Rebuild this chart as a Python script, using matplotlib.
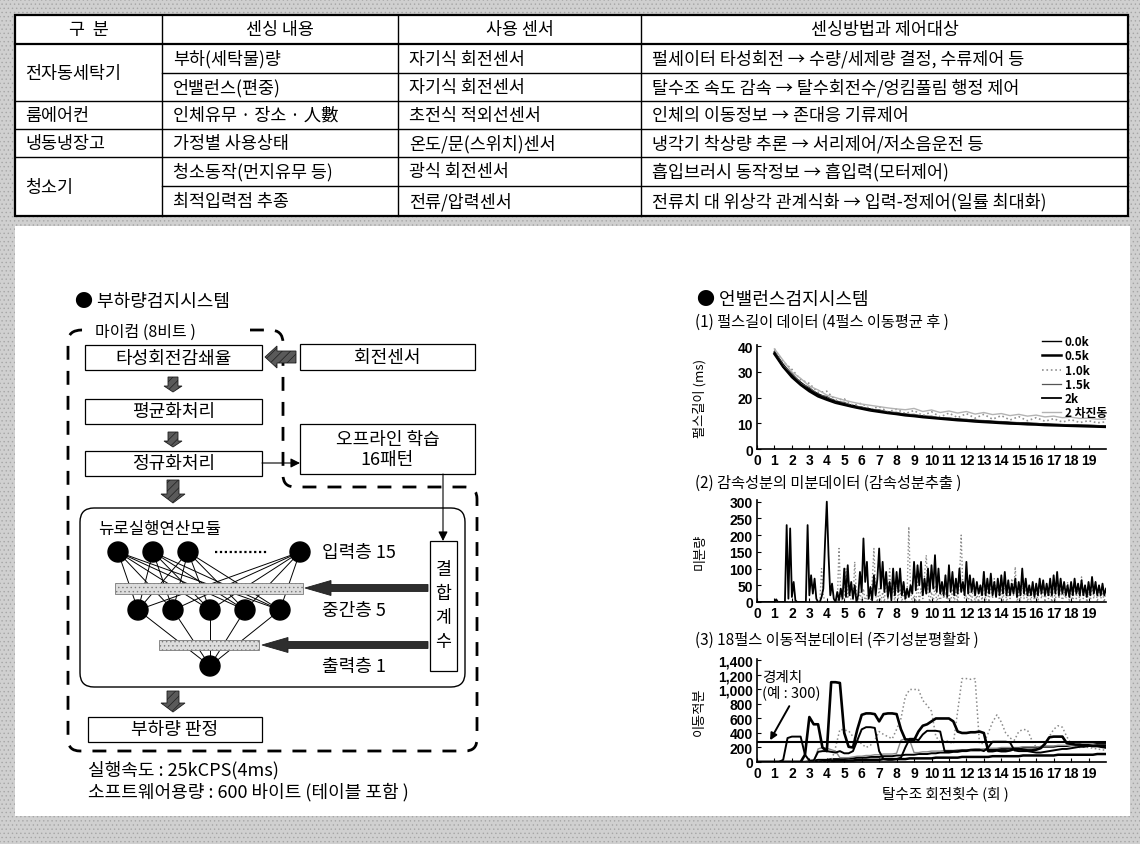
import numpy as np
import matplotlib
matplotlib.use('Agg')
import matplotlib.pyplot as plt
from matplotlib.patches import Rectangle, FancyBboxPatch, FancyArrow, Circle, PathPatch
from matplotlib.path import Path

plt.rcParams['font.family'] = ['Noto Sans CJK KR', 'DejaVu Sans']
plt.rcParams['hatch.linewidth'] = 0.5

# ---------------- table ----------------
headers = ['구  분', '센싱 내용', '사용 센서', '센싱방법과 제어대상']
products = ['전자동세탁기', '룸에어컨', '냉동냉장고', '청소기']
product_rows = [2, 1, 1, 2]
sensing = ['부하(세탁물)량', '언밸런스(편중)', '인체유무 · 장소 · 人數', '가정별 사용상태',
           '청소동작(먼지유무 등)', '최적입력점 추종']
sensors = ['자기식 회전센서', '자기식 회전센서', '초전식 적외선센서', '온도/문(스위치)센서',
           '광식 회전센서', '전류/압력센서']
methods = ['펄세이터 타성회전 → 수량/세제량 결정, 수류제어 등',
           '탈수조 속도 감속 → 탈수회전수/엉킴풀림 행정 제어',
           '인체의 이동정보 → 존대응 기류제어',
           '냉각기 착상량 추론 → 서리제어/저소음운전 등',
           '흡입브러시 동작정보 → 흡입력(모터제어)',
           '전류치 대 위상각 관계식화 → 입력-정제어(일률 최대화)']

# ---------------- diagram labels ----------------
flow_boxes = ['타성회전감쇄율', '평균화처리', '정규화처리', '부하량 판정']
layer_labels = ['입력층 15', '중간층 5', '출력층 1']
notes = ['실행속도 : 25kCPS(4ms)', '소프트웨어용량 : 600 바이트 (테이블 포함 )']

# ---------------- (1) pulse length data, every half turn from 1 to 20 ----------------
x1 = np.arange(1.0, 20.01, 0.5)
pulse_labels = ['0.0k', '0.5k', '1.0k', '1.5k', '2k', '2 차진동']
pulse_00 = [38, 33, 29, 26, 23.5, 21.5, 20, 18.8, 17.8, 17,
            16.2, 15.6, 15, 14.5, 14, 13.6, 13.2, 12.9, 12.5, 12.2,
            12, 11.7, 11.4, 11.2, 11, 10.8, 10.6, 10.4, 10.2, 10.1,
            9.9, 9.8, 9.6, 9.5, 9.4, 9.3, 9.2, 9.1, 9.0]
pulse_05 = [37, 32, 28, 25, 22.5, 20.5, 19.2, 18, 17.2, 16.4,
            15.7, 15, 14.5, 14, 13.6, 13.1, 12.8, 12.4, 12.1, 11.8,
            11.5, 11.2, 11, 10.7, 10.5, 10.3, 10.1, 9.9, 9.8, 9.6,
            9.5, 9.3, 9.2, 9.1, 9, 8.9, 8.8, 8.7, 8.6]
pulse_10 = [39, 34, 31, 27, 25.5, 22, 22.5, 19, 19.5, 17,
            17.8, 15.5, 16.5, 14.5, 15.5, 13.8, 15, 13, 14.5, 12.5,
            14, 12.2, 13.8, 12, 13.5, 11.6, 13, 11.3, 12.6, 11,
            12.2, 10.8, 11.8, 10.5, 11.4, 10.3, 11, 10.2, 10.6]
pulse_15 = [38, 32.5, 29.5, 25.5, 24, 21, 20.5, 18.3, 18.2, 16.5,
            16.4, 15.2, 15.3, 14.2, 14.3, 13.4, 13.5, 12.7, 12.8, 12,
            12.1, 11.5, 11.6, 11, 11.1, 10.6, 10.7, 10.3, 10.3, 10,
            10, 9.7, 9.7, 9.5, 9.5, 9.3, 9.3, 9.1, 9.1]
pulse_20 = [37.5, 32, 28.5, 25.2, 23, 21, 19.5, 18.4, 17.4, 16.6,
            15.9, 15.3, 14.7, 14.2, 13.8, 13.4, 13, 12.6, 12.3, 12,
            11.7, 11.5, 11.2, 11, 10.8, 10.6, 10.4, 10.2, 10, 9.9,
            9.7, 9.6, 9.4, 9.3, 9.2, 9.1, 9, 8.9, 8.8]
pulse_2nd = [39, 34.5, 30, 27.5, 24.5, 23, 21, 20, 19, 18.2,
             17.5, 17, 16.5, 16, 15.6, 15.3, 15.8, 14.6, 15.2, 14.2,
             14.8, 14, 14.6, 13.6, 14.2, 13.4, 13.8, 13, 13.5, 12.8,
             13.2, 12.5, 12.8, 12.2, 12.4, 11.9, 12, 11.6, 11.6]

# ---------------- (2) derivative data, every 0.1 turn ----------------
x2 = np.round(np.arange(0, 20.001, 0.1), 1)
deriv_black = [0, 0, 0, 0, 0, 0, 0, 0, 0, 0,
               0, 8, 0, 0, 0, 0, 0, 230, 10, 220,
               15, 60, 5, 0, 0, 0, 0, 0, 0, 230,
               20, 80, 25, 70, 10, 0, 0, 15, 40, 180,
               300, 140, 20, 55, 10, 0, 30, 5, 40, 10,
               100, 15, 110, 20, 60, 10, 50, 0, 20, 90,
               30, 190, 60, 120, 10, 45, 5, 80, 20, 70,
               160, 40, 120, 30, 90, 15, 60, 5, 100, 20,
               90, 30, 100, 20, 60, 10, 40, 15, 50, 25,
               120, 35, 110, 50, 120, 20, 70, 25, 100, 30,
               110, 40, 140, 30, 100, 25, 60, 20, 80, 15,
               110, 30, 90, 20, 70, 25, 100, 30, 60, 20,
               120, 25, 80, 30, 70, 20, 60, 25, 50, 20,
               90, 20, 70, 25, 85, 20, 60, 15, 70, 20,
               80, 25, 90, 20, 65, 20, 55, 25, 70, 15,
               60, 20, 100, 25, 70, 20, 50, 20, 60, 15,
               55, 20, 70, 25, 65, 20, 55, 20, 70, 20,
               80, 25, 90, 20, 70, 25, 60, 20, 50, 15,
               60, 20, 70, 25, 55, 20, 65, 20, 50, 15,
               60, 20, 75, 25, 60, 20, 50, 20, 55, 20,
               40]
deriv_gray = [0, 0, 0, 0, 0, 0, 0, 0, 0, 0,
              0, 0, 0, 0, 0, 0, 0, 0, 0, 0,
              0, 0, 0, 0, 0, 0, 0, 0, 0, 0,
              0, 0, 0, 0, 0, 0, 0, 100, 20, 0,
              0, 0, 0, 0, 0, 0, 0, 160, 20, 0,
              0, 100, 10, 40, 0, 0, 120, 20, 0, 30,
              0, 40, 0, 20, 0, 0, 60, 160, 20, 0,
              40, 0, 30, 0, 80, 0, 100, 20, 40, 0,
              60, 10, 40, 0, 30, 0, 20, 225, 30, 0,
              20, 0, 60, 0, 40, 10, 80, 140, 30, 0,
              30, 0, 50, 0, 20, 0, 40, 10, 30, 0,
              20, 0, 40, 0, 30, 0, 60, 200, 40, 10,
              20, 0, 30, 0, 50, 0, 20, 0, 40, 0,
              90, 0, 40, 0, 60, 10, 70, 20, 50, 0,
              40, 0, 60, 0, 30, 10, 70, 20, 105, 0,
              30, 0, 60, 10, 40, 0, 30, 0, 50, 0,
              40, 0, 60, 10, 50, 0, 40, 10, 30, 0,
              50, 0, 70, 10, 40, 0, 30, 10, 60, 0,
              40, 0, 60, 10, 50, 0, 75, 10, 40, 0,
              30, 0, 50, 10, 60, 0, 40, 10, 30, 0,
              40]

# ---------------- (3) moving integral data, every 0.25 turn ----------------
x3 = np.arange(0, 20.001, 0.25)
threshold = 280
integ_a = [0, 0, 0, 0, 0, 0, 0, 0, 0, 0, 0, 100,
           620, 520, 520, 200, 150, 1100, 1100, 1090, 400, 210, 200, 450,
           650, 670, 670, 660, 560, 660, 670, 670, 660, 450, 310, 310,
           300, 420, 500, 520, 560, 600, 600, 600, 600, 560, 420, 400,
           400, 410, 410, 420, 400, 150, 150, 160, 150, 150, 160, 180,
           180, 170, 160, 160, 170, 190, 250, 340, 350, 350, 350, 260,
           250, 240, 240, 230, 230, 220, 220, 210, 200]
integ_b = [0, 0, 0, 0, 0, 0, 30, 330, 350, 350, 350, 100,
           20, 20, 140, 150, 150, 140, 130, 150, 120, 120, 150, 300,
           450, 480, 480, 470, 150, 40, 30, 30, 40, 60, 200, 320,
           320, 300, 380, 430, 430, 430, 420, 150, 150, 150, 150, 160,
           160, 170, 170, 170, 150, 200, 280, 280, 280, 280, 270, 160,
           150, 150, 150, 140, 130, 130, 140, 150, 160, 170, 180, 180,
           190, 200, 210, 210, 220, 220, 230, 230, 230]
integ_c = [0, 0, 0, 0, 0, 0, 0, 0, 0, 0, 0, 0,
           0, 0, 0, 0, 0, 0, 200, 450, 440, 430, 350, 300,
           250, 200, 230, 300, 420, 380, 350, 320, 450, 600, 900, 1000,
           1000, 1000, 850, 780, 700, 350, 280, 300, 280, 250, 700, 1150,
           1150, 1140, 1150, 250, 260, 400, 550, 650, 550, 400, 330, 300,
           420, 450, 440, 300, 200, 180, 230, 350, 450, 500, 480, 350,
           250, 220, 200, 210, 200, 190, 180, 170, 160]
integ_e = [0, 0, 0, 0, 0, 0, 0, 0, 0, 0, 0, 0,
           10, 20, 30, 30, 30, 40, 40, 40, 40, 50, 50, 60,
           60, 60, 70, 70, 70, 80, 80, 80, 90, 90, 100, 100,
           100, 110, 110, 110, 120, 120, 130, 130, 130, 140, 140, 150,
           150, 160, 160, 160, 170, 170, 170, 180, 180, 180, 190, 190,
           190, 200, 200, 200, 200, 210, 210, 210, 210, 220, 220, 220,
           230, 230, 230, 240, 240, 240, 250, 250, 250]
integ_f = [0, 0, 0, 0, 0, 0, 0, 0, 0, 0, 0, 0,
           0, 0, 0, 10, 10, 10, 20, 20, 20, 20, 20, 30,
           30, 30, 30, 30, 30, 40, 40, 40, 40, 40, 40, 50,
           50, 50, 50, 50, 50, 60, 60, 60, 60, 60, 60, 70,
           70, 70, 70, 70, 70, 70, 80, 80, 80, 80, 80, 80,
           80, 90, 90, 90, 90, 90, 90, 90, 90, 100, 100, 100,
           100, 100, 100, 100, 100, 100, 110, 110, 110]
integ_g = [0, 0, 0, 0, 0, 0, 0, 0, 0, 0, 0, 0,
           0, 0, 180, 200, 190, 170, 150, 60, 60, 60, 70, 80,
           80, 90, 90, 100, 100, 110, 110, 110, 120, 300, 320, 300,
           130, 130, 140, 140, 150, 150, 150, 160, 160, 160, 170, 170,
           170, 170, 180, 180, 180, 190, 190, 190, 200, 200, 200, 200,
           200, 210, 210, 210, 210, 210, 220, 220, 220, 230, 230, 230,
           230, 230, 240, 240, 240, 240, 240, 240, 240]

turn_ticks = list(range(20))

# ================= figure =================
fig = plt.figure(figsize=(11.4, 8.45), dpi=100)
ax0 = fig.add_axes([0, 0, 1, 1])
ax0.set_xlim(0, 1140)
ax0.set_ylim(845, 0)
ax0.axis('off')

# grey scanned frame and white page
ax0.add_patch(Rectangle((0, 0), 1140, 845, fc='#d0d0d0', ec='#a6a6a6', hatch='....', lw=0))
ax0.add_patch(Rectangle((15, 227), 1115, 590, fc='white', lw=0))

# ---- table ----
col_x = [15, 162, 398, 641, 1128]
row_y = [16, 45, 74, 102, 130, 158, 187, 217]
tfs = 12.5
ax0.add_patch(Rectangle((col_x[0], row_y[0]), col_x[-1] - col_x[0], row_y[-1] - row_y[0],
                        fc='white', ec='black', lw=1.6))
for x in col_x[1:-1]:
    ax0.plot([x, x], [row_y[0], row_y[-1]], color='black', lw=1.0)
group_ends = np.cumsum(product_rows)[:-1]
for i in range(1, len(row_y) - 1):
    full = i == 1 or (i - 1) in group_ends
    x_start = col_x[0] if full else col_x[1]
    ax0.plot([x_start, col_x[-1]], [row_y[i], row_y[i]], color='black', lw=1.6 if i == 1 else 1.0)

for c, h in enumerate(headers):
    ax0.text((col_x[c] + col_x[c + 1]) / 2, (row_y[0] + row_y[1]) / 2, h,
             ha='center', va='center', fontsize=tfs)
r = 0
for name, span in zip(products, product_rows):
    yc = (row_y[1 + r] + row_y[1 + r + span]) / 2
    ax0.text(col_x[0] + 10, yc, name, va='center', fontsize=tfs)
    r += span
for r, cells in enumerate(zip(sensing, sensors, methods)):
    yc = (row_y[1 + r] + row_y[2 + r]) / 2
    for c, s in enumerate(cells):
        ax0.text(col_x[c + 1] + 11, yc, s, va='center', fontsize=tfs)

# ---- left diagram ----
ax0.text(75, 302, '● 부하량검지시스템', va='center', fontsize=13)

M, L, C = Path.MOVETO, Path.LINETO, Path.CURVE3
verts = [(250, 331), (270, 331), (283, 331), (283, 344), (283, 476), (283, 488), (295, 488),
         (465, 488), (477, 488), (477, 500), (477, 740), (477, 752), (465, 752),
         (80, 752), (68, 752), (68, 740), (68, 343), (68, 331), (82, 331), (90, 331)]
codes = [M, L, C, C, L, C, C, L, C, C, L, C, C, L, C, C, L, C, C, L]
ax0.add_patch(PathPatch(Path(verts, codes), fill=False, ec='black', lw=2.0, ls=(0, (5, 4))))
ax0.text(145, 332, '마이컴 (8비트 )', ha='center', va='center', fontsize=11.5)


def box(x, y, w, h, text, fs=13):
    ax0.add_patch(Rectangle((x, y), w, h, fc='white', ec='black', lw=0.9, zorder=3))
    ax0.text(x + w / 2, y + h / 2, text, ha='center', va='center', fontsize=fs, zorder=4,
             linespacing=1.1)


def block_arrow(x, y, dx, dy, width, head_width, head_length, fc='#5a5a5a', hatch='////'):
    ax0.add_patch(FancyArrow(x, y, dx, dy, width=width, head_width=head_width,
                             head_length=head_length, length_includes_head=True,
                             fc=fc, ec='#1e1e1e', lw=0.6, hatch=hatch, zorder=5))


box(85, 346, 177, 25, flow_boxes[0])
box(85, 400, 177, 25, flow_boxes[1])
box(85, 452, 177, 25, flow_boxes[2])
box(88, 718, 174, 25, flow_boxes[3])
box(300, 345, 175, 26, '회전센서')
box(300, 425, 175, 50, '오프라인 학습\n16패턴')

block_arrow(296, 358, -31, 0, 12, 22, 12)
block_arrow(173, 378, 0, 15, 10, 18, 6)
block_arrow(173, 433, 0, 15, 10, 18, 6)
block_arrow(173, 481, 0, 23, 12, 24, 9)
block_arrow(173, 692, 0, 21, 12, 24, 9)

thin = dict(arrowstyle='-|>', color='black', lw=0.8, mutation_scale=14, shrinkA=0, shrinkB=0)
ax0.annotate('', xy=(300, 464), xytext=(262, 464), arrowprops=thin)
ax0.annotate('', xy=(443, 542), xytext=(443, 475), arrowprops=thin)

ax0.add_patch(FancyBboxPatch((80, 509), 385, 179, boxstyle='round,pad=0,rounding_size=14',
                             fc='none', ec='black', lw=1.0, zorder=2))
ax0.text(98, 530, '뉴로실행연산모듈', va='center', fontsize=12)

input_x = [118, 153, 188, 300]
hidden_x = [138, 173, 210, 245, 280]
output_x = [210]
layer_y = [553, 611, 667]
node_r = 10
for xi in input_x:
    for xh in hidden_x:
        ax0.plot([xi, xh], [layer_y[0], layer_y[1]], color='black', lw=0.7, zorder=3)
for xh in hidden_x:
    for xo in output_x:
        ax0.plot([xh, xo], [layer_y[1], layer_y[2]], color='black', lw=0.7, zorder=3)
ax0.add_patch(Rectangle((115, 584), 188, 11, fc='#dcdcdc', ec='#7a7a7a', hatch='....', lw=0.6, zorder=4))
ax0.add_patch(Rectangle((159, 641), 100, 10, fc='#dcdcdc', ec='#7a7a7a', hatch='....', lw=0.6, zorder=4))
for xs, y in zip([input_x, hidden_x, output_x], layer_y):
    for x in xs:
        ax0.add_patch(Circle((x, y), node_r, fc='black', ec='black', zorder=6))
ax0.plot([215, 268], [layer_y[0], layer_y[0]], color='black', lw=1.6, ls=(0, (1, 1.2)))
for lab, y in zip(layer_labels, layer_y):
    ax0.text(322, y, lab, va='center', fontsize=13)

block_arrow(428, 589, -123, 0, 7, 15, 26, fc='#2e2e2e', hatch=None)
block_arrow(428, 646, -166, 0, 7, 15, 26, fc='#2e2e2e', hatch=None)
ax0.add_patch(Rectangle((430, 542), 27, 130, fc='white', ec='black', lw=0.9, zorder=3))
for ch, y in zip('결합계수', [570, 594, 618, 642]):
    ax0.text(443.5, y, ch, ha='center', va='center', fontsize=12.5, zorder=4)

ax0.text(88, 770, notes[0], va='center', fontsize=13)
ax0.text(88, 792, notes[1], va='center', fontsize=13)

# ---- right charts ----
ax0.text(697, 300, '● 언밸런스검지시스템', va='center', fontsize=13)
ax0.text(695, 322, '(1) 펄스길이 데이터 (4펄스 이동평균 후 )', va='center', fontsize=11)
ax0.text(695, 483, '(2) 감속성분의 미분데이터 (감속성분추출 )', va='center', fontsize=11)
ax0.text(695, 640, '(3) 18펄스 이동적분데이터 (주기성분평활화 )', va='center', fontsize=11)

W, H = 1140, 845


def chart_axes(top, bottom):
    ax = fig.add_axes([757 / W, 1 - bottom / H, 349 / W, (bottom - top) / H])
    ax.set_facecolor('none')
    for s in ['top', 'right']:
        ax.spines[s].set_visible(False)
    for s in ['left', 'bottom']:
        ax.spines[s].set_linewidth(1.2)
    ax.set_xlim(0, 20)
    ax.set_xticks(turn_ticks)
    ax.tick_params(direction='in', length=3, width=0.8, pad=3)
    return ax


def style_ticks(ax):
    plt.setp(ax.get_xticklabels() + ax.get_yticklabels(), fontfamily=['Liberation Sans', 'DejaVu Sans'],
             fontweight='bold', fontsize=10)


ax1 = chart_axes(346, 450)
pulse_series = [pulse_00, pulse_05, pulse_10, pulse_15, pulse_20, pulse_2nd]
pulse_styles = [dict(color='black', lw=1.0), dict(color='black', lw=1.8),
                dict(color='#8f8f8f', lw=1.2, ls=':'), dict(color='#555555', lw=0.9),
                dict(color='black', lw=1.3), dict(color='#b3b3b3', lw=1.0)]
for ys, lab, st in zip(pulse_series, pulse_labels, pulse_styles):
    ax1.plot(x1, ys, label=lab, **st)
ax1.set_ylim(0, 40.5)
ax1.set_yticks([0, 10, 20, 30, 40])
ax1.set_ylabel('펄스길이 (ms)', fontsize=9.5)
ax1.yaxis.set_label_coords(-0.145, 0.5)
leg = ax1.legend(loc='upper right', bbox_to_anchor=(1.02, 1.15), frameon=False,
                 handlelength=1.6, labelspacing=0.1, handletextpad=0.3, borderpad=0,
                 prop=dict(family=['Noto Sans CJK KR', 'DejaVu Sans'], weight='bold', size=8.5))
style_ticks(ax1)

ax2 = chart_axes(501, 603)
ax2.plot(x2, deriv_gray, color='#8a8a8a', lw=1.0, ls=':')
ax2.plot(x2, deriv_black, color='black', lw=1.3)
ax2.set_ylim(0, 305)
ax2.set_yticks([0, 50, 100, 150, 200, 250, 300])
ax2.set_ylabel('미분량', fontsize=9.5)
ax2.yaxis.set_label_coords(-0.145, 0.5)
style_ticks(ax2)

ax3 = chart_axes(660, 763)
ax3.plot(x3, integ_f, color='black', lw=1.8)
ax3.plot(x3, integ_e, color='black', lw=1.4)
ax3.plot(x3, integ_g, color='#8c8c8c', lw=1.0)
ax3.plot(x3, integ_c, color='#8a8a8a', lw=1.1, ls=':')
ax3.plot(x3, integ_b, color='black', lw=1.4)
ax3.plot(x3, integ_a, color='black', lw=1.9)
ax3.axhline(threshold, color='black', lw=1.5)
ax3.set_ylim(0, 1420)
ax3.set_yticks(range(0, 1401, 200))
ax3.set_yticklabels(['{:,}'.format(v) for v in range(0, 1401, 200)])
ax3.set_ylabel('이동적분', fontsize=9.5)
ax3.yaxis.set_label_coords(-0.145, 0.5)
ax3.set_xlabel('탈수조 회전횟수 (회 )', fontsize=10.5)
ax3.xaxis.set_label_coords(0.54, -0.23)
ax3.text(0.3, 1070, '경계치\n(예 : 300)', va='center', fontsize=10.5, linespacing=1.0)
ax3.annotate('', xy=(0.75, threshold + 20), xytext=(1.85, 770),
             arrowprops=dict(arrowstyle='-|>', color='black', lw=1.4, mutation_scale=10,
                             shrinkA=0, shrinkB=0))
style_ticks(ax3)

fig.savefig('out.png', dpi=100)
